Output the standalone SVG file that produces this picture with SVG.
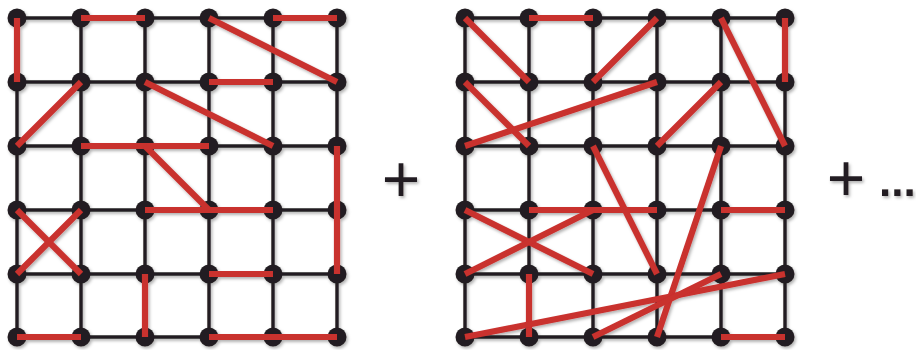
<svg xmlns="http://www.w3.org/2000/svg" width="916" height="350" viewBox="0 0 916 350">
<defs>
<filter id="sh" x="-10%" y="-10%" width="120%" height="120%">
<feDropShadow dx="1.5" dy="2" stdDeviation="1.5" flood-color="#000" flood-opacity="0.3"/>
</filter>
</defs>
<style>
.g line{stroke:#231f20;stroke-width:3.4}
.r line{stroke:#c9302e;stroke-width:6.2;stroke-linecap:butt}
.n circle{fill:#231f20}
.t{font-family:"Liberation Sans",Arial,sans-serif;fill:#231f20}
</style>
<rect width="916" height="350" fill="#fff"/>
<g filter="url(#sh)">
<g id="grid-left" class="g">
<line x1="17" y1="18" x2="337" y2="18"/><line x1="17" y1="82" x2="337" y2="82"/><line x1="17" y1="146" x2="337" y2="146"/><line x1="17" y1="210" x2="337" y2="210"/><line x1="17" y1="274" x2="337" y2="274"/><line x1="17" y1="337" x2="337" y2="337"/>
<line x1="17" y1="18" x2="17" y2="337"/><line x1="81" y1="18" x2="81" y2="337"/><line x1="145" y1="18" x2="145" y2="337"/><line x1="209" y1="18" x2="209" y2="337"/><line x1="273" y1="18" x2="273" y2="337"/><line x1="337" y1="18" x2="337" y2="337"/>
</g>
<g id="grid-right" class="g">
<line x1="465" y1="18" x2="785" y2="18"/><line x1="465" y1="82" x2="785" y2="82"/><line x1="465" y1="146" x2="785" y2="146"/><line x1="465" y1="210" x2="785" y2="210"/><line x1="465" y1="274" x2="785" y2="274"/><line x1="465" y1="337" x2="785" y2="337"/>
<line x1="465" y1="18" x2="465" y2="337"/><line x1="529" y1="18" x2="529" y2="337"/><line x1="593" y1="18" x2="593" y2="337"/><line x1="657" y1="18" x2="657" y2="337"/><line x1="721" y1="18" x2="721" y2="337"/><line x1="785" y1="18" x2="785" y2="337"/>
</g>
<g id="nodes-left" class="n">
<circle cx="17" cy="18" r="9.5"/><circle cx="81" cy="18" r="9.5"/><circle cx="145" cy="18" r="9.5"/><circle cx="209" cy="18" r="9.5"/><circle cx="273" cy="18" r="9.5"/><circle cx="337" cy="18" r="9.5"/>
<circle cx="17" cy="82" r="9.5"/><circle cx="81" cy="82" r="9.5"/><circle cx="145" cy="82" r="9.5"/><circle cx="209" cy="82" r="9.5"/><circle cx="273" cy="82" r="9.5"/><circle cx="337" cy="82" r="9.5"/>
<circle cx="17" cy="146" r="9.5"/><circle cx="81" cy="146" r="9.5"/><circle cx="145" cy="146" r="9.5"/><circle cx="209" cy="146" r="9.5"/><circle cx="273" cy="146" r="9.5"/><circle cx="337" cy="146" r="9.5"/>
<circle cx="17" cy="210" r="9.5"/><circle cx="81" cy="210" r="9.5"/><circle cx="145" cy="210" r="9.5"/><circle cx="209" cy="210" r="9.5"/><circle cx="273" cy="210" r="9.5"/><circle cx="337" cy="210" r="9.5"/>
<circle cx="17" cy="274" r="9.5"/><circle cx="81" cy="274" r="9.5"/><circle cx="145" cy="274" r="9.5"/><circle cx="209" cy="274" r="9.5"/><circle cx="273" cy="274" r="9.5"/><circle cx="337" cy="274" r="9.5"/>
<circle cx="17" cy="337" r="9.5"/><circle cx="81" cy="337" r="9.5"/><circle cx="145" cy="337" r="9.5"/><circle cx="209" cy="337" r="9.5"/><circle cx="273" cy="337" r="9.5"/><circle cx="337" cy="337" r="9.5"/>
</g>
<g id="nodes-right" class="n">
<circle cx="465" cy="18" r="9.5"/><circle cx="529" cy="18" r="9.5"/><circle cx="593" cy="18" r="9.5"/><circle cx="657" cy="18" r="9.5"/><circle cx="721" cy="18" r="9.5"/><circle cx="785" cy="18" r="9.5"/>
<circle cx="465" cy="82" r="9.5"/><circle cx="529" cy="82" r="9.5"/><circle cx="593" cy="82" r="9.5"/><circle cx="657" cy="82" r="9.5"/><circle cx="721" cy="82" r="9.5"/><circle cx="785" cy="82" r="9.5"/>
<circle cx="465" cy="146" r="9.5"/><circle cx="529" cy="146" r="9.5"/><circle cx="593" cy="146" r="9.5"/><circle cx="657" cy="146" r="9.5"/><circle cx="721" cy="146" r="9.5"/><circle cx="785" cy="146" r="9.5"/>
<circle cx="465" cy="210" r="9.5"/><circle cx="529" cy="210" r="9.5"/><circle cx="593" cy="210" r="9.5"/><circle cx="657" cy="210" r="9.5"/><circle cx="721" cy="210" r="9.5"/><circle cx="785" cy="210" r="9.5"/>
<circle cx="465" cy="274" r="9.5"/><circle cx="529" cy="274" r="9.5"/><circle cx="593" cy="274" r="9.5"/><circle cx="657" cy="274" r="9.5"/><circle cx="721" cy="274" r="9.5"/><circle cx="785" cy="274" r="9.5"/>
<circle cx="465" cy="337" r="9.5"/><circle cx="529" cy="337" r="9.5"/><circle cx="593" cy="337" r="9.5"/><circle cx="657" cy="337" r="9.5"/><circle cx="721" cy="337" r="9.5"/><circle cx="785" cy="337" r="9.5"/>
</g>
<g id="connectors" class="r">
<line x1="17" y1="18" x2="17" y2="82"/>
<line x1="81" y1="18" x2="145" y2="18"/>
<line x1="209" y1="18" x2="337" y2="82"/>
<line x1="273" y1="18" x2="337" y2="18"/>
<line x1="81" y1="82" x2="17" y2="146"/>
<line x1="145" y1="82" x2="273" y2="146"/>
<line x1="209" y1="82" x2="273" y2="82"/>
<line x1="81" y1="146" x2="209" y2="146"/>
<line x1="145" y1="146" x2="209" y2="210"/>
<line x1="337" y1="146" x2="337" y2="274"/>
<line x1="17" y1="210" x2="81" y2="274"/>
<line x1="81" y1="210" x2="17" y2="274"/>
<line x1="145" y1="210" x2="273" y2="210"/>
<line x1="209" y1="274" x2="273" y2="274"/>
<line x1="145" y1="274" x2="145" y2="337"/>
<line x1="17" y1="337" x2="81" y2="337"/>
<line x1="209" y1="337" x2="337" y2="337"/>
<line x1="465" y1="18" x2="529" y2="82"/>
<line x1="529" y1="18" x2="593" y2="18"/>
<line x1="657" y1="18" x2="593" y2="82"/>
<line x1="721" y1="18" x2="785" y2="146"/>
<line x1="785" y1="18" x2="785" y2="82"/>
<line x1="465" y1="82" x2="529" y2="146"/>
<line x1="657" y1="82" x2="465" y2="146"/>
<line x1="721" y1="82" x2="657" y2="146"/>
<line x1="593" y1="146" x2="657" y2="274"/>
<line x1="721" y1="146" x2="657" y2="337"/>
<line x1="465" y1="210" x2="593" y2="274"/>
<line x1="529" y1="210" x2="657" y2="210"/>
<line x1="465" y1="274" x2="593" y2="210"/>
<line x1="721" y1="210" x2="785" y2="210"/>
<line x1="529" y1="274" x2="529" y2="337"/>
<line x1="465" y1="337" x2="785" y2="274"/>
<line x1="593" y1="337" x2="721" y2="274"/>
<line x1="721" y1="337" x2="785" y2="337"/>
</g>
<text class="t" x="401" y="202" font-size="66" text-anchor="middle">+</text>
<text class="t" x="846" y="201" font-size="66" text-anchor="middle">+</text>
<text class="t" x="879" y="196" font-size="44" font-weight="bold">...</text>
</g>
</svg>
